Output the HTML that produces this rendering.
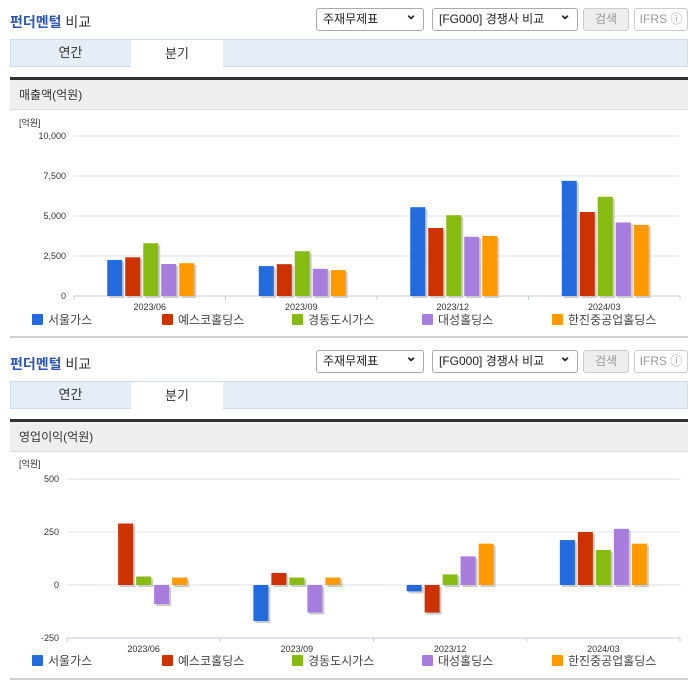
<!DOCTYPE html>
<html><head><meta charset="utf-8">
<style>
*{margin:0;padding:0;box-sizing:border-box}
body{width:696px;height:684px;background:#fff;position:relative;overflow:hidden;font-family:"Liberation Sans","Noto Sans CJK KR",sans-serif;font-size:12px;color:#333}
.abs{position:absolute}
.title{font-size:14px;font-weight:normal;color:#333}
.title b{color:#2a55b5}
.sel{border:1px solid #aaa;border-radius:3px;background:#fff;height:23px;font-size:12px;line-height:21px;padding-left:6px;color:#222}
.sel:after{content:"⌄";position:absolute;right:6px;top:-5px;font-size:14px;font-weight:bold}
.btn{border:1px solid #ccc;border-radius:3px;background:#eee;height:23px;line-height:21px;text-align:center;color:#999;font-size:12px}
.tabs{background:#e6edf7;border:1px solid #d2dcea;height:28px;left:10px;width:678px}
.tab{top:0;height:28px;line-height:28px;text-align:center;font-size:13px;color:#333}
.dark{left:10px;width:678px;height:3px;background:#333}
.hdr{left:10px;width:678px;height:30px;background:#efefef;border-bottom:1px solid #ddd;line-height:30px;padding-left:9px;font-size:12px;color:#333}
.bline{left:10px;width:678px;height:2px;background:#d0d0d0}
</style></head><body>

<div class="abs title" style="left:10px;top:12px"><b>펀더멘털</b> 비교</div>
<div class="abs sel" style="left:316px;top:8px;width:108px">주재무제표</div>
<div class="abs sel" style="left:432px;top:8px;width:146px">[FG000] 경쟁사 비교</div>
<div class="abs btn" style="left:583px;top:8px;width:46px">검색</div>
<div class="abs btn" style="left:634px;top:8px;width:54px;background:#fff">IFRS ⓘ</div>
<div class="abs tabs" style="top:39px"></div>
<div class="abs tab" style="left:10px;top:39px;width:121px">연간</div>
<div class="abs tab" style="left:131px;top:40px;width:92px;background:#fff;height:28px">분기</div>
<div class="abs dark" style="top:77px"></div>
<div class="abs hdr" style="top:80px">매출액(억원)</div>
<svg class="abs" id="c1" style="left:0;top:110px" width="696" height="232"></svg>
<div class="abs bline" style="top:336px"></div>

<div class="abs title" style="left:10px;top:354px"><b>펀더멘털</b> 비교</div>
<div class="abs sel" style="left:316px;top:350px;width:108px">주재무제표</div>
<div class="abs sel" style="left:432px;top:350px;width:146px">[FG000] 경쟁사 비교</div>
<div class="abs btn" style="left:583px;top:350px;width:46px">검색</div>
<div class="abs btn" style="left:634px;top:350px;width:54px;background:#fff">IFRS ⓘ</div>
<div class="abs tabs" style="top:381px"></div>
<div class="abs tab" style="left:10px;top:381px;width:121px">연간</div>
<div class="abs tab" style="left:131px;top:382px;width:92px;background:#fff;height:28px">분기</div>
<div class="abs dark" style="top:419px"></div>
<div class="abs hdr" style="top:422px">영업이익(억원)</div>
<svg class="abs" id="c2" style="left:0;top:452px" width="696" height="228"></svg>
<div class="abs bline" style="top:678px"></div>

<script>
const categories = ["2023/06","2023/09","2023/12","2024/03"];
const companies = ["서울가스","예스코홀딩스","경동도시가스","대성홀딩스","한진중공업홀딩스"];
const colors = ["#236bdc","#cc3300","#88bb11","#a77ddd","#ff9900"];
const revSeoul = [2250,1870,5550,7200];
const revYesco = [2420,1990,4250,5250];
const revKyungdong = [3300,2800,5050,6200];
const revDaesung = [2000,1700,3700,4600];
const revHanjin = [2050,1620,3750,4450];
const revTicks = [0,2500,5000,7500,10000];
const opSeoul = [0,-170,-30,212];
const opYesco = [290,57,-130,250];
const opKyungdong = [40,35,50,165];
const opDaesung = [-90,-130,135,265];
const opHanjin = [35,35,195,195];
const opTicks = [-250,0,250,500];

const NS="http://www.w3.org/2000/svg";
function mk(svg,tag,attrs,text){const e=document.createElementNS(NS,tag);for(const k in attrs)e.setAttribute(k,attrs[k]);if(text!==undefined)e.textContent=text;svg.appendChild(e);return e;}

function draw(svg,series,ticks,cfg){
  const yMin=ticks[0],yMax=ticks[ticks.length-1];
  const y=v=>cfg.yBot-(v-yMin)/(yMax-yMin)*(cfg.yBot-cfg.yTop);
  const cw=(cfg.x1-cfg.x0)/categories.length;
  const x=i=>cfg.x0+cw*i;
  const l=mk(svg,'text',{x:cfg.unitX,y:cfg.unitY,'font-size':9,fill:'#333'},'[억원]');
  
  
  ticks.forEach(t=>{
    const g=mk(svg,'line',{x1:cfg.x0,x2:cfg.x1,y1:y(t),y2:y(t),stroke:'#dde3ea'});
    
    
    const tl=mk(svg,'text',{x:cfg.x0-8,y:y(t)+3,'font-size':9,fill:'#333','text-anchor':'end'},t.toLocaleString('en-US'));
    
    
  });
  const ax=mk(svg,'line',{x1:cfg.x0,x2:cfg.x1,y1:cfg.yBot,y2:cfg.yBot,stroke:'#c5cdd8'});
  
  
  for(let i=0;i<=categories.length;i++){
    const tk=mk(svg,'line',{x1:x(i),x2:x(i),y1:cfg.yBot,y2:cfg.yBot+4,stroke:'#c5cdd8'});
    
    
  }
  const bw=15,gap=3,tot=series.length*bw+(series.length-1)*gap;
  categories.forEach((c,i)=>{
    const cx=x(i)+cw/2+cfg.shift;
    const cl=mk(svg,'text',{x:x(i)+cw/2,y:cfg.yBot+14,'font-size':9,fill:'#333','text-anchor':'middle'},c);
    
    
    series.forEach((s,j)=>{
      const v=s[i]; if(v===0) return;
      const bx=cx-tot/2+j*(bw+gap);
      const top=Math.min(y(v),y(0)),h=Math.abs(y(v)-y(0));
      const sh=mk(svg,'rect',{x:bx+2,y:top+2,width:bw,height:h,fill:'#ccc'});
      
      
      const r=mk(svg,'rect',{x:bx,y:top,width:bw,height:h,fill:colors[j]});
      
      
    });
  });
  companies.forEach((n,j)=>{
    const lx=32+j*130;
    const sq=mk(svg,'rect',{x:lx,y:cfg.legY-6,width:11,height:11,fill:colors[j],rx:1});
    
    
    const lt=mk(svg,'text',{x:lx+16,y:cfg.legY+4,'font-size':12,fill:'#444'},n);
    
    
  });
}
draw(document.getElementById('c1'),[revSeoul,revYesco,revKyungdong,revDaesung,revHanjin],revTicks,
  {x0:74,x1:680,yTop:26,yBot:186,unitX:19,unitY:16,legY:210,shift:1});
draw(document.getElementById('c2'),[opSeoul,opYesco,opKyungdong,opDaesung,opHanjin],opTicks,
  {x0:67,x1:680,yTop:27,yBot:186,unitX:19,unitY:15,legY:209,shift:0});
</script>
</body></html>
